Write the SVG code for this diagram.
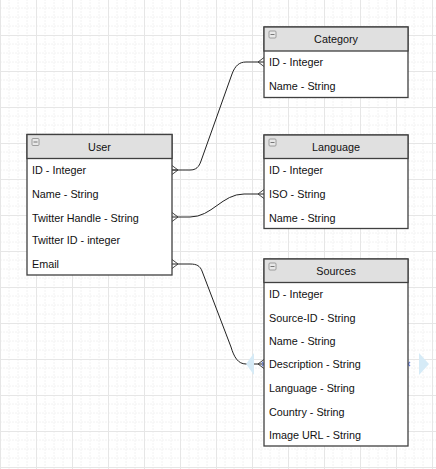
<svg xmlns="http://www.w3.org/2000/svg" width="436" height="469" viewBox="0 0 436 469">
<defs>
<pattern id="grid" x="0" y="-1" width="36" height="36" patternUnits="userSpaceOnUse">
<path d="M9,0V36M18,0V36M27,0V36M0,9H36M0,18H36M0,27H36" stroke="#f2f2f2" stroke-width="1" fill="none" stroke-dasharray="2,1"/>
<path d="M0.5,0V36M0,0.5H36" stroke="#e6e6e6" stroke-width="1" fill="none"/>
</pattern>
</defs>
<style>
.box{fill:#fff;stroke:#404040;stroke-width:1.3}
.hdr{fill:#e0e0e0;stroke:#404040;stroke-width:1.3}
.ico{fill:#e8e8e8;stroke:#8a8a8a;stroke-width:0.8}
.icm{stroke:#6a6a6a;stroke-width:0.9}
text{font-family:"Liberation Sans",Arial,sans-serif;font-size:10.8px;fill:#111}
.ttl{text-anchor:middle}
.con{fill:none;stroke:#222;stroke-width:1}
.cf{fill:none;stroke:#333;stroke-width:0.9}
.sel{fill:#d6ebf7}
.xm{stroke:#6d86e0;stroke-width:1.3}
</style>
<rect width="436" height="469" fill="#fff"/>
<rect width="436" height="469" fill="url(#grid)"/>

<g id="connectors">
<path class="con" d="M172,170 L190,170 C196,170 199,167 201,161 L232,74 C235,66 239,62 246,62 L264,62"/>
<path class="con" d="M172,217 L190,217 C212,217 222,194 244,194 L264,194"/>
<path class="con" d="M172,264 L190,264 C197,264 200,266 202,271 L231,347 C234,357 238,364 246,364 L264,364"/>
<path class="cf" d="M172,165.5 L178,170 L172,174.5 M172,170 L178,170"/>
<path class="cf" d="M172,212.5 L178,217 L172,221.5"/>
<path class="cf" d="M172,259.5 L178,264 L172,268.5"/>
<path class="cf" d="M264,57.5 L258,62 L264,66.5"/>
<path class="cf" d="M264,189.5 L258,194 L264,198.5"/>
<path class="cf" d="M264,359.5 L258,364 L264,368.5"/>
<path class="sel" d="M246,364 L254,353 L254,375 Z"/>
<path class="sel" d="M429,364 L419,353 L419,375 Z"/>
<path class="xm" d="M262,362 L266,366 M266,362 L262,366"/>
<path class="xm" d="M406,362 L410,366 M410,362 L406,366"/>
</g>

<g id="user">
<rect class="box" x="27" y="134.5" width="145" height="140.5"/>
<rect class="hdr" x="27" y="134.5" width="145" height="24"/>
<rect class="ico" x="32" y="138.5" width="7" height="7" rx="1"/>
<line class="icm" x1="33.5" y1="142" x2="37.5" y2="142"/>
<text class="ttl" x="99.5" y="150.5">User</text>
<text x="32" y="174">ID - Integer</text>
<text x="32" y="198">Name - String</text>
<text x="32" y="221.5">Twitter Handle - String</text>
<text x="32" y="244">Twitter ID - integer</text>
<text x="32" y="268">Email</text>
</g>

<g id="category">
<rect class="box" x="264" y="27" width="144" height="70.5"/>
<rect class="hdr" x="264" y="27" width="144" height="24"/>
<rect class="ico" x="269" y="31" width="7" height="7" rx="1"/>
<line class="icm" x1="270.5" y1="34.5" x2="274.5" y2="34.5"/>
<text class="ttl" x="336" y="43">Category</text>
<text x="269" y="66">ID - Integer</text>
<text x="269" y="90">Name - String</text>
</g>

<g id="language">
<rect class="box" x="264" y="135" width="144" height="93.5"/>
<rect class="hdr" x="264" y="135" width="144" height="23.5"/>
<rect class="ico" x="269" y="139" width="7" height="7" rx="1"/>
<line class="icm" x1="270.5" y1="142.5" x2="274.5" y2="142.5"/>
<text class="ttl" x="336" y="151">Language</text>
<text x="269" y="174">ID - Integer</text>
<text x="269" y="198">ISO - String</text>
<text x="269" y="221.5">Name - String</text>
</g>

<g id="sources">
<rect class="box" x="264" y="259" width="144" height="187"/>
<rect class="hdr" x="264" y="259" width="144" height="23.5"/>
<rect class="ico" x="269" y="263" width="7" height="7" rx="1"/>
<line class="icm" x1="270.5" y1="266.5" x2="274.5" y2="266.5"/>
<text class="ttl" x="336" y="275">Sources</text>
<text x="269" y="298">ID - Integer</text>
<text x="269" y="322">Source-ID - String</text>
<text x="269" y="345">Name - String</text>
<text x="269" y="368">Description - String</text>
<text x="269" y="392">Language - String</text>
<text x="269" y="415.5">Country - String</text>
<text x="269" y="439">Image URL - String</text>
</g>
</svg>
